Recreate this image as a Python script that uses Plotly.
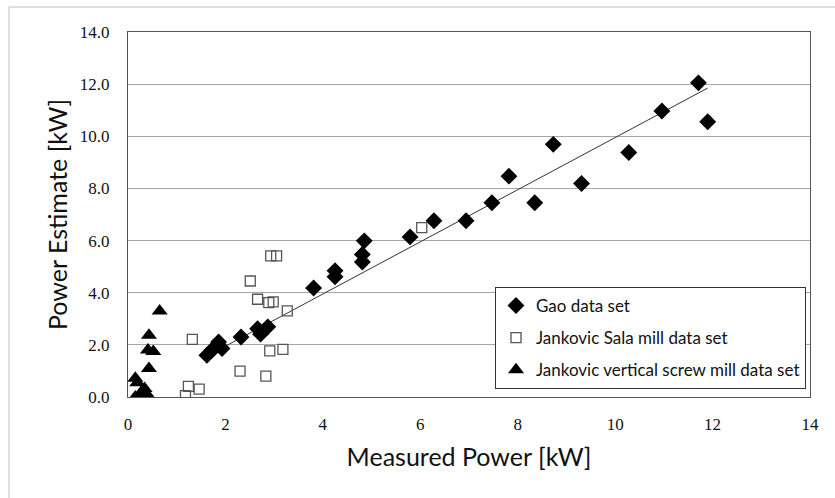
import plotly.graph_objects as go

# Gao data set (diamonds)
gao_x = [1.62, 1.72, 1.79, 1.86, 1.93, 2.32, 2.66, 2.72, 2.87, 3.81, 4.25, 4.25, 4.81, 4.81,
         4.85, 5.79, 6.28, 6.94, 7.47, 7.82, 8.35, 8.73, 9.31, 10.28, 10.96, 11.71, 11.90]
gao_y = [1.60, 1.79, 1.92, 2.11, 1.86, 2.30, 2.62, 2.41, 2.69, 4.18, 4.84, 4.61, 5.18, 5.47,
         5.99, 6.14, 6.76, 6.76, 7.45, 8.47, 7.45, 9.69, 8.19, 9.38, 10.97, 12.05, 10.56]

# Jankovic Sala mill data set (open squares)
sala_x = [1.18, 1.24, 1.46, 1.32, 2.30, 2.51, 2.66, 2.83, 2.89, 2.98, 2.91, 3.18, 3.27, 2.93, 3.05, 6.03]
sala_y = [0.05, 0.41, 0.30, 2.21, 0.99, 4.45, 3.75, 0.80, 3.62, 3.65, 1.77, 1.83, 3.30, 5.41, 5.41, 6.50]

# Jankovic vertical screw mill data set (triangles)
screw_x = [0.65, 0.43, 0.41, 0.52, 0.43, 0.15, 0.19, 0.34, 0.38, 0.28, 0.22, 0.15, 0.27]
screw_y = [3.30, 2.37, 1.80, 1.75, 1.09, 0.72, 0.55, 0.33, 0.13, 0.20, 0.03, 0.00, 0.00]

# Trend line endpoints (linear fit of Gao data)
trend_x = [1.62, 11.90]
trend_y = [1.57, 11.85]

names = ["Gao data set", "Jankovic Sala mill data set", "Jankovic vertical screw mill data set"]
x_ticks = [0, 2, 4, 6, 8, 10, 12, 14]
y_ticks = [0, 2, 4, 6, 8, 10, 12, 14]

W, H = 835, 498
ML, MR, MT, MB = 128, 25, 32, 101

fig = go.Figure()
fig.add_trace(go.Scatter(x=trend_x, y=trend_y, mode="lines",
                         line=dict(color="#333333", width=1), showlegend=False, hoverinfo="skip"))
fig.add_trace(go.Scatter(x=gao_x, y=gao_y, mode="markers", name=names[0], legendgroup="a",
                         marker=dict(symbol="diamond", size=13, color="black")))
fig.add_trace(go.Scatter(x=sala_x, y=sala_y, mode="markers", name=names[1], legendgroup="b",
                         marker=dict(symbol="square-open", size=10, color="#555555",
                                     line=dict(width=1.3, color="#555555"))))
fig.add_trace(go.Scatter(x=screw_x, y=screw_y, mode="markers", name=names[2], legendgroup="c",
                         marker=dict(symbol="triangle-up", size=14, color="black")))

pw = W - ML - MR
ph = H - MT - MB
def px_x(p):
    return (p - ML) / pw
def px_y(p):
    return (H - MB - p) / ph

fig.update_layout(
    width=W, height=H,
    margin=dict(l=ML, r=MR, t=MT, b=MB),
    paper_bgcolor="white", plot_bgcolor="white",
    font=dict(family="Liberation Serif", color="#111111", size=16),
    xaxis=dict(range=[0, 14], tickvals=x_ticks, ticktext=[str(v) for v in x_ticks],
               showgrid=False, zeroline=False, showline=True, mirror=True,
               linecolor="#555555", linewidth=1, ticks="", ticklen=0, ticklabelstandoff=12,
               tickfont=dict(family="Liberation Serif", size=17, color="#111111"),
               title=dict(text="Measured Power [kW]", standoff=15,
                          font=dict(family="Lato", size=25, color="#111111"))),
    yaxis=dict(range=[0, 14], tickvals=y_ticks, ticktext=["%.1f" % v for v in y_ticks],
               showgrid=True, gridcolor="#a6a6a6", gridwidth=1, zeroline=False,
               showline=True, mirror=True, linecolor="#555555", linewidth=1, ticks="",
               ticklabelstandoff=14,
               tickfont=dict(family="Liberation Serif", size=17, color="#111111"),
               title=dict(text="Power Estimate [kW]", standoff=5,
                          font=dict(family="Lato", size=25, color="#111111"))),
    legend=dict(x=px_x(495), y=px_y(287), xanchor="left", yanchor="top",
                bgcolor="white", bordercolor="#333333", borderwidth=1,
                font=dict(family="Lato", size=17, color="#111111"),
                traceorder="grouped", tracegroupgap=7, itemwidth=30),
    shapes=[dict(type="rect", xref="paper", yref="paper",
                 x0=px_x(9), x1=px_x(W + 10), y0=px_y(H + 10), y1=px_y(7),
                 line=dict(color="#c0c0c0", width=1), fillcolor="rgba(0,0,0,0)", layer="below")],
)

fig.write_html("out.html")
